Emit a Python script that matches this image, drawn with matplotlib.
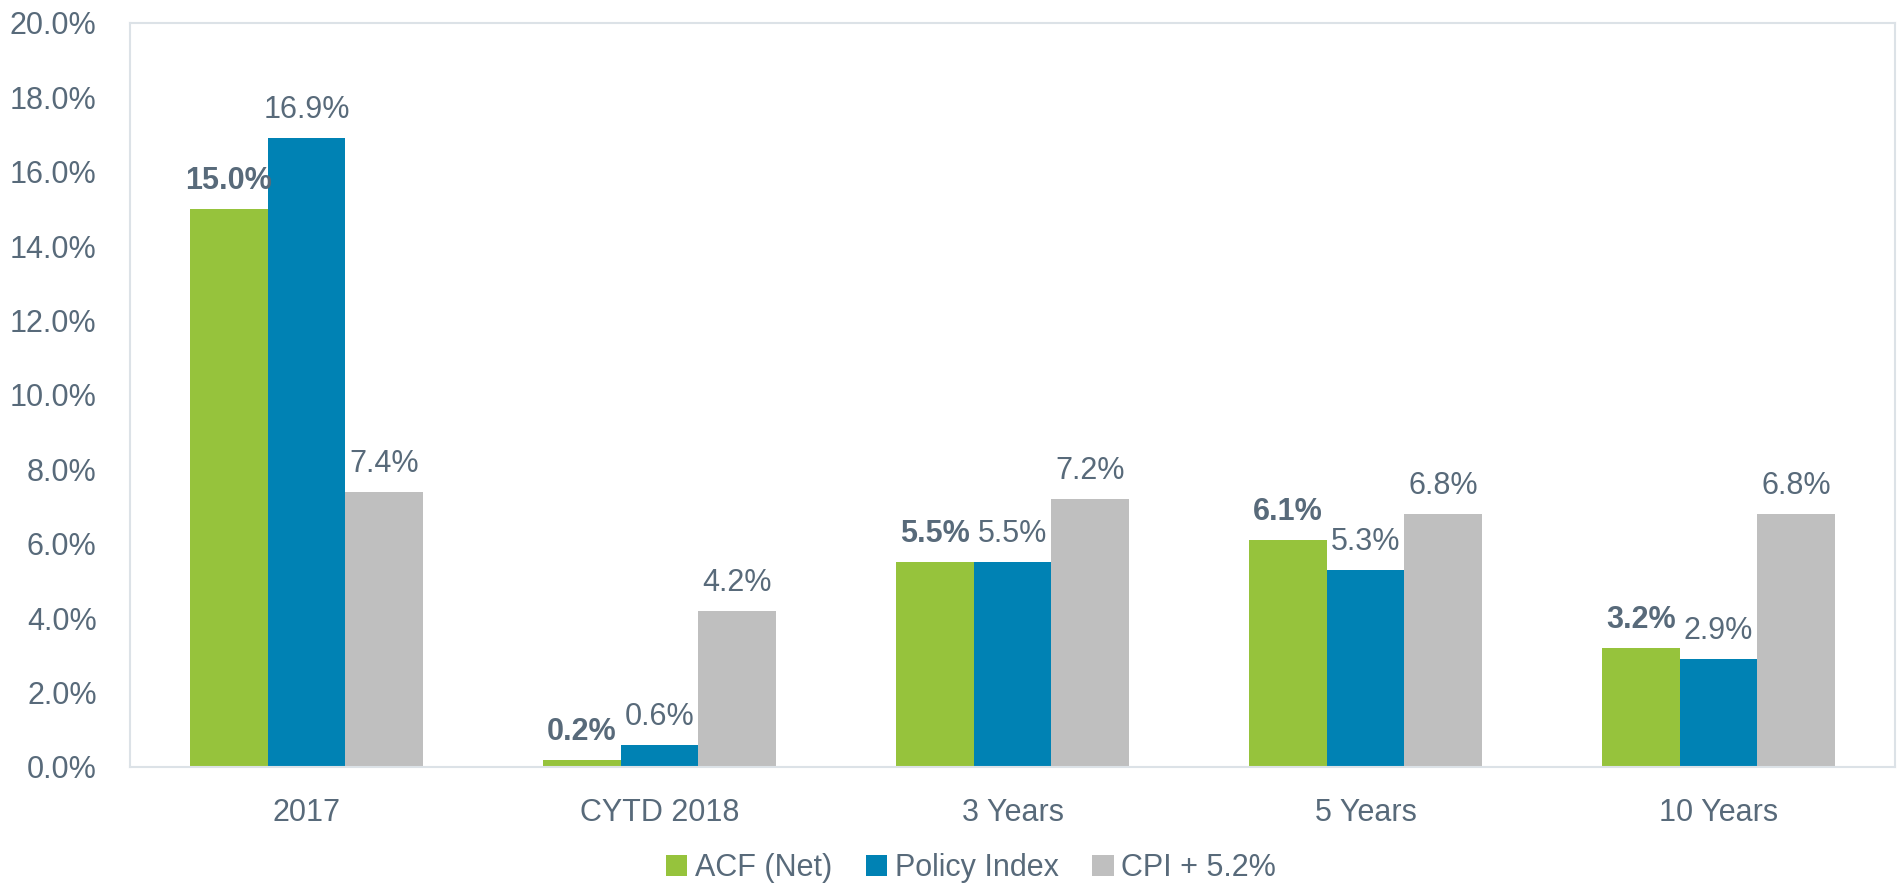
import matplotlib
matplotlib.use("Agg")
import matplotlib.pyplot as plt
import numpy as np

plt.rcParams['font.family'] = ['Liberation Sans', 'DejaVu Sans']

categories = ['2017', 'CYTD 2018', '3 Years', '5 Years', '10 Years']
acf_net = [15.0, 0.2, 5.5, 6.1, 3.2]
policy_index = [16.9, 0.6, 5.5, 5.3, 2.9]
cpi_plus = [7.4, 4.2, 7.2, 6.8, 6.8]
series_names = ['ACF (Net)', 'Policy Index', 'CPI + 5.2%']
colors = ['#96C33C', '#0082B4', '#BFBFBF']
yticks = np.arange(0, 20.1, 2)

txt = '#586A7A'
frame = '#DCE2E7'

fig = plt.figure(figsize=(19, 8.83), dpi=100)
ax = fig.add_axes([0.0684, 0.1314, 0.929, 0.8426])

x = np.arange(len(categories))
w = 0.22
series = [acf_net, policy_index, cpi_plus]
for i, (vals, name, c) in enumerate(zip(series, series_names, colors)):
    pos = x + (i - 1) * w
    bars = ax.bar(pos, vals, w, color=c, label=name, zorder=2)
    for p, v in zip(pos, vals):
        ax.text(p, v + 0.35, f'{v:.1f}%', ha='center', va='bottom',
                fontsize=22, color=txt,
                fontweight='bold' if i == 0 else 'normal')

ax.set_xlim(-0.5, len(categories) - 0.5)
ax.set_ylim(0, 20)
ax.set_yticks(yticks)
ax.set_yticklabels([f'{t:.1f}%' for t in yticks])
ax.set_xticks(x)
ax.set_xticklabels(categories)
ax.tick_params(axis='both', length=0, labelsize=22, labelcolor=txt)
ax.tick_params(axis='x', pad=22)
ax.tick_params(axis='y', pad=24)
for s in ax.spines.values():
    s.set_color(frame)
    s.set_linewidth(1.5)

fig.legend(loc='center', bbox_to_anchor=(0.511, 0.017), ncol=3, frameon=False,
           fontsize=22, labelcolor=txt, handlelength=0.7, handleheight=0.7,
           handletextpad=0.25, columnspacing=1.1)

fig.savefig('out.png', dpi=100)
